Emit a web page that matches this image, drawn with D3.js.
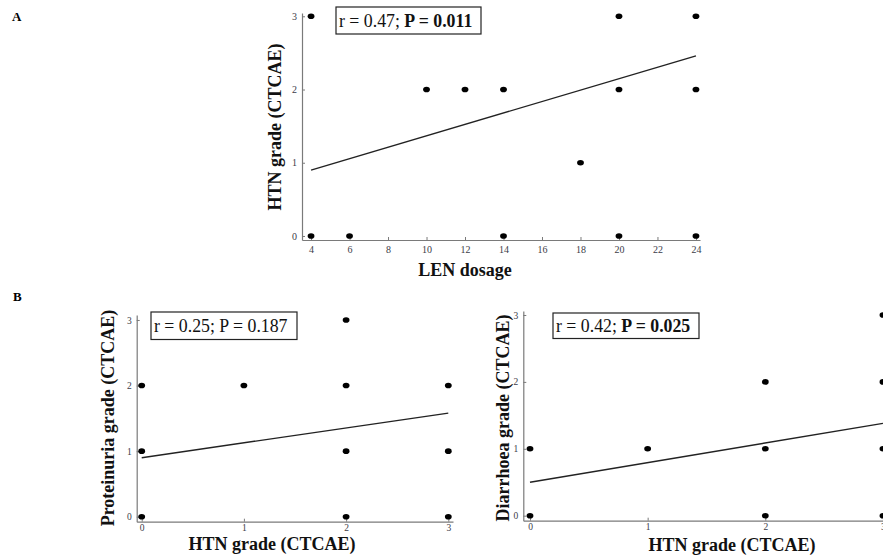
<!DOCTYPE html>
<html><head><meta charset="utf-8">
<script src="https://cdn.jsdelivr.net/npm/d3@7"></script>
<style>body{margin:0;background:#fff;} svg{display:block;font-family:"Liberation Serif","Times New Roman",serif;}</style>
</head><body>
<svg id="c" width="883" height="558"></svg>
<script>
// ---- Data ----
// Panel A: LEN dosage vs HTN grade
const lenDose  = [4, 4, 6, 10, 12, 14, 14, 18, 20, 20, 20, 24, 24, 24];
const htnA     = [3, 0, 0, 2, 2, 2, 0, 1, 3, 2, 0, 3, 2, 0];
const fitA     = [[4, 0.9], [24, 2.46]];
const xTicksA  = [4, 6, 8, 10, 12, 14, 16, 18, 20, 22, 24];
const gradeTicks = [0, 1, 2, 3];

// Panel B left: HTN grade vs Proteinuria grade
const htnB1    = [0, 0, 0, 1, 2, 2, 2, 2, 3, 3, 3];
const protB1   = [2, 1, 0, 2, 3, 2, 1, 0, 2, 1, 0];
const fitB1    = [[0, 0.9], [3, 1.58]];

// Panel B right: HTN grade vs Diarrhoea grade
const htnB2    = [0, 0, 1, 2, 2, 2, 3, 3, 3, 3];
const diarB2   = [1, 0, 1, 2, 1, 0, 3, 2, 1, 0];
const fitB2    = [[0, 0.5], [3, 1.38]];

const svg = d3.select("#c");

function panel(cfg) {
  const g = svg.append("g");
  const x = d3.scaleLinear().domain(cfg.xDom).range(cfg.xRange);
  const y = d3.scaleLinear().domain(cfg.yDom).range(cfg.yRange);

  const xa = g.append("g").attr("transform", `translate(0,${cfg.yRange[0]})`)
    .call(d3.axisBottom(x).tickValues(cfg.xTicks).tickSizeInner(-3).tickSizeOuter(0).tickPadding(cfg.xPad).tickFormat(d3.format("d")));
  const ya = g.append("g").attr("transform", `translate(${cfg.xRange[0]},0)`)
    .call(d3.axisLeft(y).tickValues(gradeTicks).tickSizeInner(-3).tickSizeOuter(0).tickPadding(5).tickFormat(d3.format("d")));
  [xa, ya].forEach(a => {
    a.select(".domain").attr("stroke", "#7a7a7a").attr("stroke-width", 1.2);
    a.selectAll(".tick line").attr("stroke", "#7a7a7a");
    a.selectAll(".tick text").attr("fill", "#3c3c48").attr("font-size", cfg.tickFs)
      .attr("font-family", "Liberation Serif, serif");
  });

  const pts = cfg.xs.map((v, i) => [v, cfg.ys[i]]);
  g.append("path")
    .attr("d", d3.line().x(d => x(d[0])).y(d => y(d[1]))(cfg.fit))
    .attr("stroke", "#222").attr("stroke-width", 1.4).attr("fill", "none");
  g.selectAll("ellipse.pt").data(pts).join("ellipse")
    .attr("cx", d => x(d[0])).attr("cy", d => y(d[1]))
    .attr("rx", 3.4).attr("ry", 2.8).attr("fill", "#000");

  // annotation box
  const b = cfg.box;
  g.append("rect").attr("x", b.x).attr("y", b.y).attr("width", b.w).attr("height", b.h)
    .attr("fill", "#fff").attr("stroke", "#222").attr("stroke-width", 1.2);
  const t = g.append("text").attr("x", b.x + 3).attr("y", b.base)
    .attr("font-size", 17.8).attr("fill", "#111");
  t.append("tspan").text(cfg.rText);
  t.append("tspan").attr("font-weight", cfg.pBold ? "bold" : "normal").text(cfg.pText);

  // axis titles
  g.append("text").attr("x", cfg.xl[0]).attr("y", cfg.xl[1]).attr("text-anchor", "middle")
    .attr("font-weight", "bold").attr("font-size", 18).attr("fill", "#111").text(cfg.xTitle);
  g.append("text").attr("transform", `translate(${cfg.yl[0]},${cfg.yl[1]}) rotate(-90)`)
    .attr("text-anchor", "middle").attr("font-weight", "bold").attr("font-size", 18)
    .attr("fill", "#111").text(cfg.yTitle);
}

panel({
  xs: lenDose, ys: htnA, fit: fitA, xTicks: xTicksA, tickFs: 10,
  xDom: [3.53, 24.21], xRange: [302, 700], yDom: [-0.055, 3.045], yRange: [240, 13], xPad: 6,
  box: {x: 336, y: 7, w: 145, h: 27, base: 27}, rText: "r = 0.47; ", pText: "P = 0.011", pBold: true,
  xTitle: "LEN dosage", xl: [465, 276], yTitle: "HTN grade (CTCAE)", yl: [281, 127]
});
panel({
  xs: htnB1, ys: protB1, fit: fitB1, xTicks: [0, 1, 2, 3], tickFs: 9.5,
  xDom: [-0.049, 3.046], xRange: [136.7, 453], yDom: [-0.076, 3.076], yRange: [521.7, 315], xPad: 3,
  box: {x: 151, y: 312, w: 146, h: 27.5, base: 332}, rText: "r = 0.25; ", pText: "P = 0.187", pBold: false,
  xTitle: "HTN grade (CTCAE)", xl: [272, 550], yTitle: "Proteinuria grade (CTCAE)", yl: [114, 418]
});
panel({
  xs: htnB2, ys: diarB2, fit: fitB2, xTicks: [0, 1, 2, 3], tickFs: 9.5,
  xDom: [-0.057, 3.06], xRange: [523.3, 890], yDom: [-0.075, 3.06], yRange: [520.7, 311], xPad: 3,
  box: {x: 553, y: 313, w: 146, h: 25.5, base: 332}, rText: "r = 0.42; ", pText: "P = 0.025", pBold: true,
  xTitle: "HTN grade (CTCAE)", xl: [732, 551], yTitle: "Diarrhoea grade (CTCAE)", yl: [509, 418]
});

svg.append("text").attr("x", 12).attr("y", 21).attr("font-weight", "bold").attr("font-size", 13).text("A");
svg.append("text").attr("x", 13).attr("y", 301).attr("font-weight", "bold").attr("font-size", 13).text("B");
</script>
</body></html>
